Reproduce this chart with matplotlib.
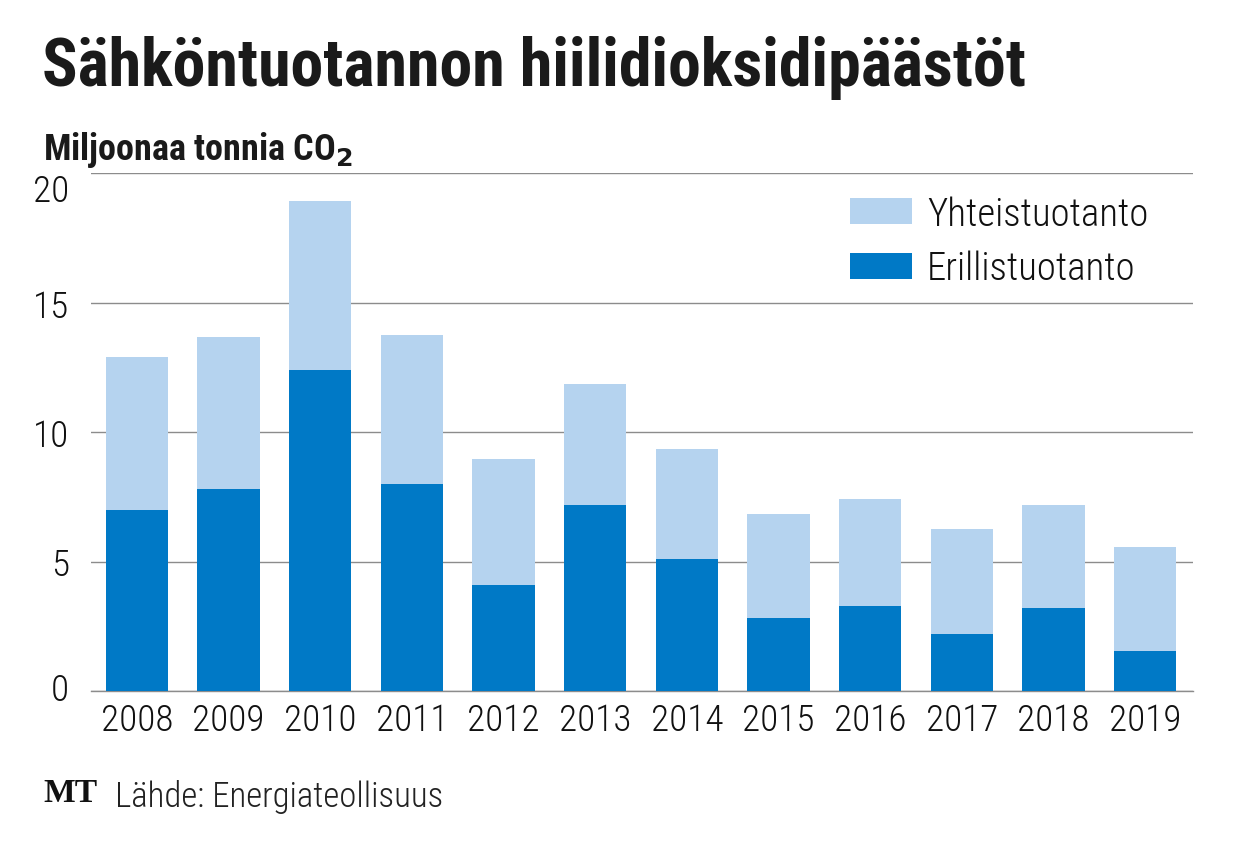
import numpy as np
import matplotlib
matplotlib.use('Agg')
import matplotlib.pyplot as plt
import matplotlib.font_manager as fm
import matplotlib.transforms as mtransforms

# pick a condensed face if there is one
fonts = fm.fontManager.ttflist
cond = [f for f in fonts if f.stretch in ('condensed', 'semi-condensed', 'extra-condensed')
        or 'Condensed' in f.name or 'Narrow' in f.name]
cond_names = [f.name for f in cond]
font_name = 'DejaVu Sans'
stretch = 'normal'
for cand in ['Roboto Condensed', 'Open Sans Condensed', 'Liberation Sans Narrow',
             'Noto Sans Condensed', 'DejaVu Sans Condensed']:
    if cand in cond_names:
        font_name = cand
        break
else:
    for f in cond:
        if f.name in ('DejaVu Sans', 'Roboto', 'Open Sans', 'Noto Sans'):
            font_name = f.name
            stretch = 'condensed'
            break
plt.rcParams['font.family'] = [font_name, 'DejaVu Sans']
plt.rcParams['font.stretch'] = stretch

years = ['2008', '2009', '2010', '2011', '2012', '2013',
         '2014', '2015', '2016', '2017', '2018', '2019']
erillis = [7.0, 7.8, 12.4, 8.0, 4.1, 7.2, 5.1, 2.8, 3.3, 2.2, 3.2, 1.55]
total = [12.9, 13.65, 18.9, 13.75, 8.95, 11.85, 9.35, 6.85, 7.4, 6.25, 7.2, 5.55]
yhteis = [t - e for t, e in zip(total, erillis)]

dark = '#0079c6'
light = '#b5d3ef'

fig = plt.figure(figsize=(12.4, 8.54), dpi=100)
ax = fig.add_axes([91 / 1240, 1 - 692 / 854, (1193 - 91) / 1240, (692 - 174) / 854])
renderer = fig.canvas.get_renderer()


def fit(txt, width_px):
    # scale a text's font size so it spans the given width
    w = txt.get_window_extent(renderer).width
    txt.set_fontsize(txt.get_fontsize() * width_px / w)


x = np.arange(len(years))
ax.bar(x, erillis, width=0.68, color=dark, label='Erillistuotanto', zorder=3)
ax.bar(x, yhteis, width=0.68, bottom=erillis, color=light, label='Yhteistuotanto', zorder=3)

ax.set_xlim(-0.5, 11.52)
ax.set_ylim(0, 20)
ax.set_yticks([0, 5, 10, 15, 20])
ax.set_xticks(x)
ax.set_xticklabels(years)
ax.grid(axis='y', color='#8c8c8c', linewidth=1.0, zorder=0)
for s in ['top', 'right', 'left']:
    ax.spines[s].set_visible(False)
ax.spines['bottom'].set_color('#8c8c8c')
ax.spines['bottom'].set_linewidth(1.0)
ax.tick_params(axis='both', length=0, labelsize=25, colors='#111111')
ax.tick_params(axis='y', pad=16)
ax.tick_params(axis='x', pad=8)
for lab in ax.get_xticklabels() + ax.get_yticklabels():
    lab.set_fontweight('light')

fig.canvas.draw()
xl = ax.get_xticklabels()
fit(xl[0], 72)
tick_size = xl[0].get_fontsize()
ax.tick_params(axis='both', labelsize=tick_size)
ylabels = ax.get_yticklabels()
ylabels[-1].set_verticalalignment('top')
ylabels[0].set_transform(ylabels[0].get_transform() +
                         mtransforms.ScaledTranslation(0, 5 / 100, fig.dpi_scale_trans))

handles, labels = ax.get_legend_handles_labels()
probe = fig.text(0, 0, 'Yhteistuotanto', fontsize=tick_size, fontweight='light')
fit(probe, 221)
leg_size = probe.get_fontsize()
probe.remove()
fpx = leg_size * 100 / 72
leg = fig.legend(handles[::-1], labels[::-1], loc='upper left',
                 bbox_to_anchor=(850 / 1240, 1 - 196 / 854), bbox_transform=fig.transFigure,
                 frameon=False, prop={'size': leg_size, 'weight': 'light'},
                 handlelength=62 / fpx, handleheight=26 / fpx, borderpad=0, borderaxespad=0,
                 labelspacing=0.45, handletextpad=15 / fpx)
for t in leg.get_texts():
    t.set_color('#111111')

title = fig.text(42 / 1240, 1 - 68 / 854, 'Sähköntuotannon hiilidioksidipäästöt',
                 fontsize=37, fontweight='bold', va='center', ha='left', color='#1a1a1a')
sub = fig.text(43 / 1240, 1 - 150 / 854, 'Miljoonaa tonnia CO$_\\mathbf{2}$',
               fontsize=21, fontweight='bold', va='center', ha='left', color='#1a1a1a')
mt = fig.text(43 / 1240, 1 - 794 / 854, 'MT', family=['Liberation Serif', 'DejaVu Serif'],
              fontsize=27, fontweight='bold', va='center', ha='left', color='#111111',
              fontstretch='normal')
src = fig.text(115 / 1240, 1 - 797 / 854, 'Lähde: Energiateollisuus',
               fontsize=22, fontweight='light', va='center', ha='left', color='#222222')
fit(title, 983)
fit(sub, 310)
fit(src, 328)
fit(mt, 54)

fig.savefig('out.png', dpi=100)
